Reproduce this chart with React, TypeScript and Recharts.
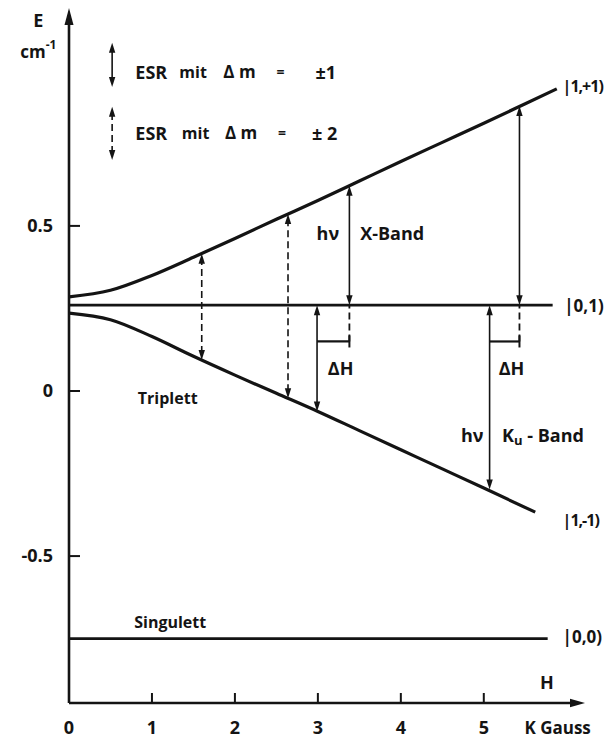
import React from 'react';
import { ComposedChart, Line, XAxis, YAxis, ReferenceLine, ReferenceDot } from 'recharts';

// ---- data ----
const upperX = [0, 0.5, 1, 1.5, 2, 2.5, 3, 3.5, 4, 4.5, 5, 5.5, 5.88];
const upperE = [0.285, 0.305, 0.35, 0.405, 0.462, 0.52, 0.577, 0.636, 0.695, 0.753, 0.811, 0.87, 0.915];
const lowerX = [0, 0.5, 1, 1.5, 2, 2.5, 3, 3.5, 4, 4.5, 5, 5.62];
const lowerE = [0.236, 0.216, 0.165, 0.105, 0.048, -0.007, -0.062, -0.12, -0.178, -0.236, -0.294, -0.367];
const midX = [0, 5.83];
const midE = [0.26, 0.26];
const singX = [0, 5.77];
const singE = [-0.75, -0.75];

const xTicks = [0, 1, 2, 3, 4, 5];
const yTicks = [-0.5, 0, 0.5];
const X_DOMAIN: [number, number] = [0, 6.22];
const Y_DOMAIN: [number, number] = [-0.945, 1.16];

// transitions: x, from E, to E, dashed?
const arrowX = [1.6, 2.64, 3.38, 2.99, 5.43, 5.07, 0.52, 0.52];
const arrowFrom = [0.094, -0.022, 0.26, -0.062, 0.26, -0.298, 0.921, 0.7];
const arrowTo = [0.416, 0.536, 0.622, 0.26, 0.863, 0.26, 1.055, 0.861];
const arrowDashed = [true, true, false, false, false, false, false, true];

// ΔH markers
const dhLeft = [2.99, 5.07];
const dhRight = [3.38, 5.43];
const dhLevel = 0.15;

const FONT = '"Open Sans", "DejaVu Sans", sans-serif';
const INK = '#141414';

const toRows = (xs: number[], es: number[]) => xs.map((x, i) => ({ x, e: es[i] }));

function head(tx: number, ty: number, ux: number, uy: number, L = 10, W = 3.2) {
  const bx = tx - ux * L;
  const by = ty - uy * L;
  const px = -uy;
  const py = ux;
  return `${tx},${ty} ${bx + px * W},${by + py * W} ${bx - px * W},${by - py * W}`;
}

function arrowShape(dashed: boolean, startHead: boolean, endHead: boolean, sw = 1.6, L = 10, W = 3.2) {
  return (p: any) => {
    const { x1, y1, x2, y2 } = p;
    const dx = x2 - x1;
    const dy = y2 - y1;
    const len = Math.hypot(dx, dy) || 1;
    const ux = dx / len;
    const uy = dy / len;
    const sx = startHead ? x1 + ux * L * 0.7 : x1;
    const sy = startHead ? y1 + uy * L * 0.7 : y1;
    const ex = endHead ? x2 - ux * L * 0.7 : x2;
    const ey = endHead ? y2 - uy * L * 0.7 : y2;
    return (
      <g>
        <line x1={sx} y1={sy} x2={ex} y2={ey} stroke={INK} strokeWidth={sw} strokeDasharray={dashed ? '7 4' : undefined} />
        {startHead && <polygon points={head(x1, y1, -ux, -uy, L, W)} fill={INK} />}
        {endHead && <polygon points={head(x2, y2, ux, uy, L, W)} fill={INK} />}
      </g>
    );
  };
}

const capShape = (p: any) => {
  const { x1, y1, x2, y2 } = p;
  return (
    <g>
      <line x1={x1} y1={y1} x2={x2} y2={y2} stroke={INK} strokeWidth={2.2} />
      <line x1={x2} y1={y2 - 6} x2={x2} y2={y2 + 6} stroke={INK} strokeWidth={2} />
    </g>
  );
};

type Ann = { x: number; y: number; text: string; anchor?: 'start' | 'middle' | 'end'; size?: number; ls?: number };
const annotations: Ann[] = [
  { x: 0.8, y: 0.967, text: 'ESR', size: 18 },
  { x: 1.33, y: 0.967, text: 'mit', size: 16 },
  { x: 1.86, y: 0.967, text: 'Δ m', size: 17 },
  { x: 2.5, y: 0.967, text: '=', size: 14 },
  { x: 2.97, y: 0.967, text: '±1', size: 18 },
  { x: 0.8, y: 0.782, text: 'ESR', size: 18 },
  { x: 1.36, y: 0.782, text: 'mit', size: 16 },
  { x: 1.88, y: 0.782, text: 'Δ m', size: 17 },
  { x: 2.52, y: 0.782, text: '=', size: 14 },
  { x: 2.93, y: 0.782, text: '± 2', size: 18 },
  { x: 5.95, y: 0.925, text: '|1,+1)', size: 16, ls: -1 },
  { x: 5.97, y: 0.26, text: '|0,1)', size: 17 },
  { x: 5.95, y: -0.39, text: '|1,-1)', size: 16, ls: -1 },
  { x: 5.95, y: -0.745, text: '|0,0)', size: 17 },
  { x: 1.19, y: -0.02, text: 'Triplett', anchor: 'middle', size: 16 },
  { x: 1.22, y: -0.7, text: 'Singulett', anchor: 'middle', size: 16 },
  { x: 3.12, y: 0.479, text: 'hν', anchor: 'middle', size: 18 },
  { x: 3.51, y: 0.479, text: 'X-Band', size: 18 },
  { x: 3.12, y: 0.07, text: 'ΔH', size: 18 },
  { x: 5.18, y: 0.07, text: 'ΔH', size: 18 },
  { x: 4.86, y: -0.133, text: 'hν', anchor: 'middle', size: 18 },
  { x: 5.76, y: -0.882, text: 'H', anchor: 'middle', size: 18 },
  { x: 5.89, y: -1.02, text: 'K Gauss', anchor: 'middle', size: 17 },
  { x: -0.37, y: 1.124, text: 'E', anchor: 'middle', size: 18 },
];

const textShape = (a: Ann) => (p: any) => (
  <text
    x={p.cx}
    y={p.cy}
    textAnchor={a.anchor || 'start'}
    dominantBaseline="central"
    fontFamily={FONT}
    fontWeight={700}
    fontSize={a.size || 16}
    style={a.ls ? { letterSpacing: `${a.ls}px` } : undefined}
    fill={INK}
  >
    {a.text}
  </text>
);

const unitShape = (p: any) => (
  <text x={p.cx} y={p.cy} textAnchor="middle" dominantBaseline="central" fontFamily={FONT} fontWeight={700} fontSize={17} fill={INK}>
    <tspan>cm</tspan>
    <tspan dy={-7} fontSize={12}>-1</tspan>
  </text>
);

const kuShape = (p: any) => (
  <text x={p.cx} y={p.cy} textAnchor="start" dominantBaseline="central" fontFamily={FONT} fontWeight={700} fontSize={18} fill={INK}>
    <tspan>K</tspan>
    <tspan dy={5} fontSize={13}>u</tspan>
    <tspan dy={-5}>{' - Band'}</tspan>
  </text>
);

export default function App() {
  const tickStyle = { fill: INK, fontSize: 18, fontFamily: FONT, fontWeight: 700 };
  return (
    <div style={{ position: 'absolute', left: 0, top: 0, background: '#fff' }}>
      <ComposedChart width={608} height={739} margin={{ top: 8, right: 23, bottom: 0, left: 0 }}>
        <XAxis
          type="number"
          dataKey="x"
          domain={X_DOMAIN}
          allowDataOverflow
          ticks={xTicks}
          height={36}
          axisLine={false}
          tickSize={-10}
          tickMargin={28}
          tickLine={{ stroke: INK, strokeWidth: 2 }}
          tick={tickStyle}
          interval={0}
        />
        <YAxis
          type="number"
          dataKey="e"
          domain={Y_DOMAIN}
          allowDataOverflow
          ticks={yTicks}
          width={69}
          axisLine={false}
          tickSize={-11}
          tickMargin={27}
          tickLine={{ stroke: INK, strokeWidth: 2 }}
          tick={tickStyle}
          interval={0}
        />

        {/* axes with arrowheads */}
        <ReferenceLine
          segment={[{ x: 0, y: Y_DOMAIN[0] }, { x: 0, y: Y_DOMAIN[1] }]}
          ifOverflow="visible"
          shape={arrowShape(false, false, true, 2.6, 17, 4.5)}
        />
        <ReferenceLine
          segment={[{ x: 0, y: Y_DOMAIN[0] }, { x: X_DOMAIN[1], y: Y_DOMAIN[0] }]}
          ifOverflow="visible"
          shape={arrowShape(false, false, true, 2.6, 15, 4.2)}
        />

        <Line data={toRows(upperX, upperE)} dataKey="e" type="monotone" stroke={INK} strokeWidth={3.2} dot={false} activeDot={false} isAnimationActive={false} />
        <Line data={toRows(lowerX, lowerE)} dataKey="e" type="monotone" stroke={INK} strokeWidth={3.2} dot={false} activeDot={false} isAnimationActive={false} />
        <Line data={toRows(midX, midE)} dataKey="e" type="linear" stroke={INK} strokeWidth={2.6} dot={false} activeDot={false} isAnimationActive={false} />
        <Line data={toRows(singX, singE)} dataKey="e" type="linear" stroke={INK} strokeWidth={2.6} dot={false} activeDot={false} isAnimationActive={false} />

        {arrowX.map((x, i) => (
          <ReferenceLine
            key={'a' + i}
            segment={[{ x, y: arrowFrom[i] }, { x, y: arrowTo[i] }]}
            ifOverflow="visible"
            shape={arrowShape(arrowDashed[i], true, true, 1.6, 10, 3.2)}
          />
        ))}

        {dhRight.map((x, i) => (
          <ReferenceLine
            key={'d' + i}
            segment={[{ x, y: dhLevel }, { x, y: midE[0] }]}
            ifOverflow="visible"
            shape={arrowShape(true, false, false, 1.8)}
          />
        ))}
        {dhLeft.map((x, i) => (
          <ReferenceLine
            key={'c' + i}
            segment={[{ x, y: dhLevel }, { x: dhRight[i], y: dhLevel }]}
            ifOverflow="visible"
            shape={capShape}
          />
        ))}

        {annotations.map((a, i) => (
          <ReferenceDot key={'t' + i} x={a.x} y={a.y} r={0} ifOverflow="visible" shape={textShape(a)} />
        ))}
        <ReferenceDot x={-0.37} y={1.03} r={0} ifOverflow="visible" shape={unitShape} />
        <ReferenceDot x={5.22} y={-0.133} r={0} ifOverflow="visible" shape={kuShape} />
      </ComposedChart>
    </div>
  );
}
